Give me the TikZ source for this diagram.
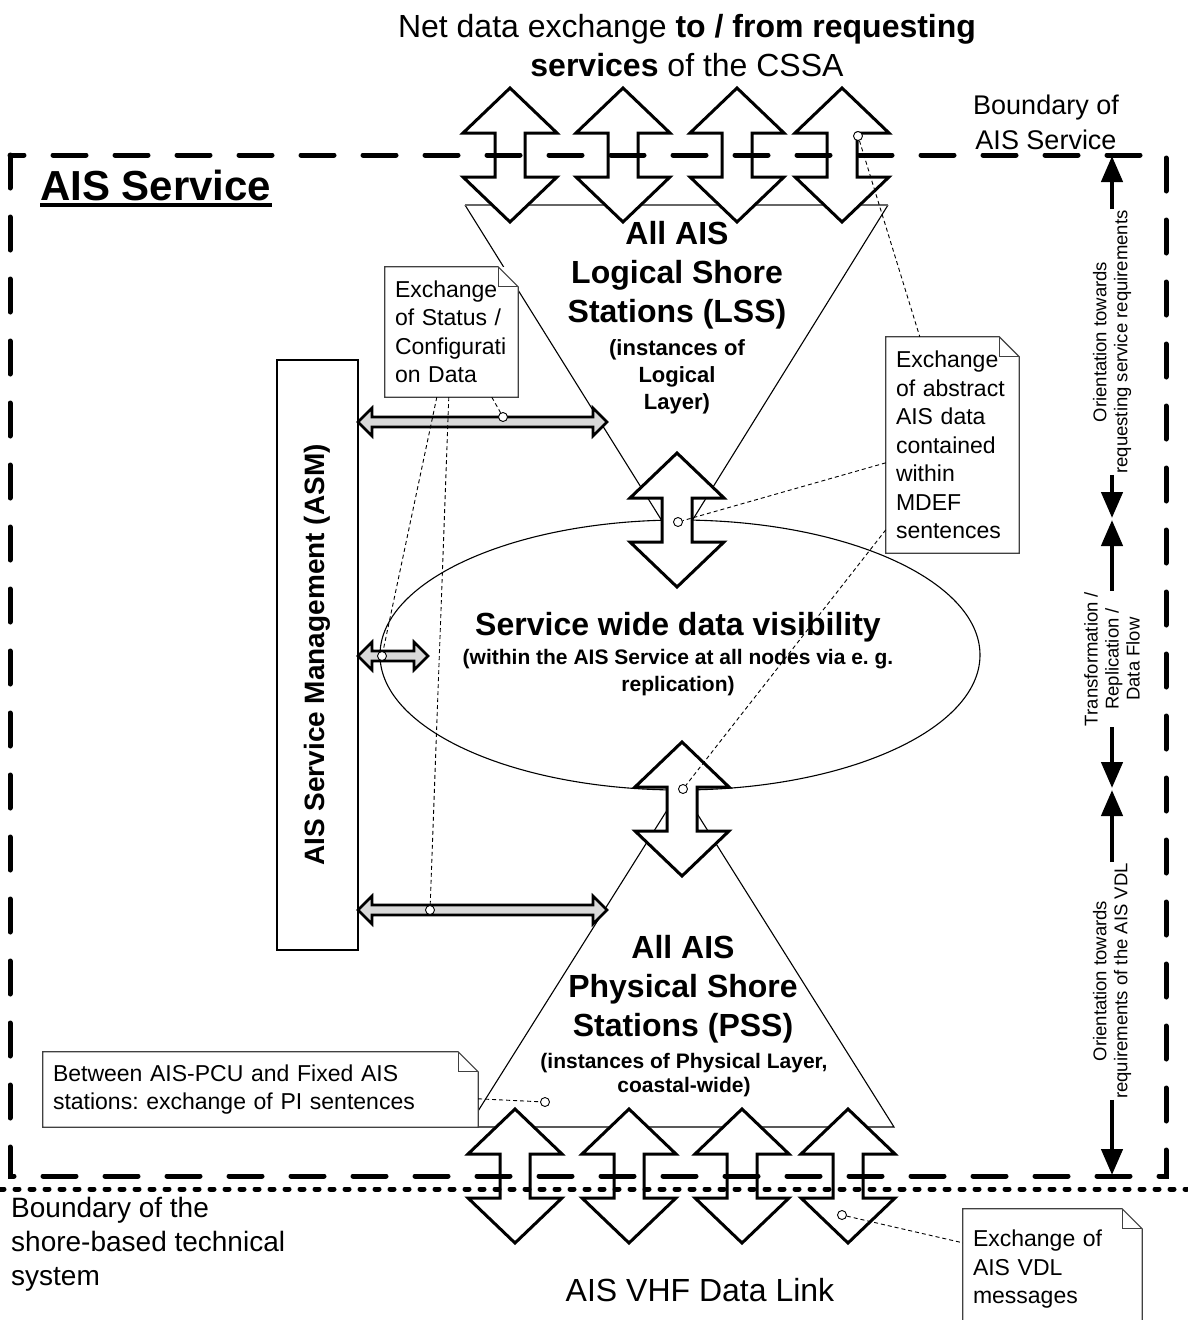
\documentclass[tikz,border=0pt]{standalone}
\usepackage{fontspec}
\setmainfont{Liberation Sans}
\usetikzlibrary{arrows.meta,calc}
\frenchspacing

\newcommand{\fbig}{\fontsize{32}{39}\selectfont}
\newcommand{\fbound}{\fontsize{27}{35}\selectfont}
\newcommand{\fhead}{\fontsize{42}{48}\selectfont\bfseries}
\newcommand{\fsub}{\fontsize{22}{27}\selectfont\bfseries}
\newcommand{\fnote}{\fontsize{23}{28.5}\selectfont}
\newcommand{\fside}{\fontsize{18.5}{21}\selectfont}
\newcommand{\fshore}{\fontsize{28}{34}\selectfont}

\tikzset{
	thinline/.style={line width=1.1pt},
	blockline/.style={line width=3pt, fill=white, line join=miter},
	updown/.pic={
		\draw[blockline] (0,-67) -- (47,-22) -- (15,-22) -- (15,22) -- (47,22) -- (0,67)
			-- (-47,22) -- (-15,22) -- (-15,-22) -- (-47,-22) -- cycle;
	},
	linkarrow/.style={line width=2.6pt, fill=black!15, line join=miter},
	servicebound/.style={line width=5pt, dash pattern=on 33pt off 29pt, line cap=round},
	shorebound/.style={line width=5pt, dash pattern=on 4pt off 11pt, line cap=round},
	note/.style={fill=white, inner xsep=10pt, inner ysep=0pt, align=left, font=\fnote},
	noteline/.style={line width=1.2pt, draw=black!75},
	leader/.style={line width=0.9pt, dash pattern=on 4pt off 3pt},
	ring/.style={circle, draw, fill=white, inner sep=0pt, minimum size=9pt, line width=0.9pt},
	sidetext/.style={rotate=90, align=center, font=\fside, inner sep=1pt},
	sidearrow/.style={line width=4.5pt, -{Triangle[length=26pt,width=21pt]}}
}

\def\hollowlink(#1:#2:#3){\draw[linkarrow] (#1,#3) -- (#1+14,#3-14) -- (#1+14,#3-5) -- (#2-14,#3-5)
	-- (#2-14,#3-14) -- (#2,#3) -- (#2-14,#3+14) -- (#2-14,#3+5) -- (#1+14,#3+5) -- (#1+14,#3+14) -- cycle;}
\def\dogear#1{\draw[noteline] (#1.north west) -- ([xshift=-20pt]#1.north east) -- ([yshift=-20pt]#1.north east)
	-- (#1.south east) -- (#1.south west) -- cycle;
	\draw[noteline] ([xshift=-20pt]#1.north east) |- ([yshift=-20pt]#1.north east);}

\begin{document}
\begin{tikzpicture}[x=1pt,y=-1pt]
	%%%%% START %%%%%
	\useasboundingbox (0,0) rectangle (1187,1320);
	
	% data visibility and the two layers
	\draw[thinline] (680,655) ellipse (300 and 135);
	\draw[thinline] (888,205) -- (677,545) -- (465,205);
	\draw[thinline, black!60] (465,205) -- (888,205);
	\draw[thinline] (681,788) -- (894,1127) -- (468,1127) -- cycle;
	
	% block arrows
	\foreach \x in {510,623,737,842} \pic at (\x,155) {updown};
	\foreach \x in {515,629,742,848} \pic at (\x,1176) {updown};
	\pic at (677,520) {updown};
	\pic at (682,809) {updown};
	
	% boundaries
	\draw[servicebound] (10,155) rectangle (1166,1176);
	\draw[shorebound] (0,1189) -- (1187,1189);
	
	% service management
	\node[draw, line width=1.5pt, fill=white, rotate=90, minimum width=590pt, minimum height=81pt,
		font=\fontsize{28}{34}\selectfont\bfseries] (asm) at (317.5,655) {AIS Service Management (ASM)};
	\hollowlink(358:607:422)
	\hollowlink(358:428:656)
	\hollowlink(358:607:910)
	
	% texts
	\node[font=\fbig, align=center] (cssa) at (687,46) {Net data exchange \textbf{to / from requesting}\\\textbf{services} of the CSSA};
	\node[font=\fbound, align=center] (aisbound) at (1046,122) {Boundary of\\AIS Service};
	\node[font=\fhead, inner sep=0pt, anchor=base west] (service) at (40,200) {AIS Service};
	\draw[line width=3.5pt] ([yshift=-5pt]service.base west) -- ([yshift=-5pt]service.base east);
	
	\node[font=\fbig\bfseries, align=center] (lss) at (677,275) {All AIS\\Logical Shore\\Stations (LSS)};
	\node[font=\fsub, align=center] (lsssub) at (677,377) {(instances of\\Logical\\Layer)};
	\node[font=\fbig\bfseries] (vis) at (678,627) {Service wide data visibility};
	\node[font=\fontsize{21}{27}\selectfont\bfseries, align=center] (vissub) at (678,673) {(within the AIS Service at all nodes via e. g.\\replication)};
	\node[font=\fbig\bfseries, align=center] (pss) at (683,989) {All AIS\\Physical Shore\\Stations (PSS)};
	\node[font=\fontsize{21}{24}\selectfont\bfseries, align=center] (psssub) at (684,1075) {(instances of Physical Layer,\\coastal-wide)};
	\node[font=\fbig] (vhf) at (700,1290) {AIS VHF Data Link};
	\node[font=\fshore, align=left, anchor=west, inner sep=0pt] (shore) at (11,1244) {Boundary of the\\shore-based technical\\system};
	
	% orientation arrows on the right
	\node[sidetext] (ori1) at (1112,342) {Orientation towards\\requesting service requirements};
	\node[sidetext] (flow) at (1112,659) {Transformation /\\Replication /\\Data Flow};
	\node[sidetext] (ori2) at (1112,981) {Orientation towards\\requirements of the AIS VDL};
	\coordinate (r0) at (1112,156);
	\coordinate (r1) at (1112,518);
	\coordinate (r2) at (1112,520);
	\coordinate (r3) at (1112,788);
	\coordinate (r4) at (1112,790);
	\coordinate (r5) at (1112,1175);
	\draw[sidearrow] (ori1.east) -- (r0);
	\draw[sidearrow] (ori1.west) -- (r1);
	\draw[sidearrow] (flow.east) -- (r2);
	\draw[sidearrow] (flow.west) -- (r3);
	\draw[sidearrow] (ori2.east) -- (r4);
	\draw[sidearrow] (ori2.west) -- (r5);
	
	% notes
	\node[note, minimum width=133pt, minimum height=130pt, text width=113pt] (statusnote) at (451.5,332)
		{Exchange\\of Status /\\Configurati\\on Data};
	\dogear{statusnote}
	\node[note, minimum width=133pt, minimum height=216pt, text width=113pt] (mdefnote) at (952.5,445)
		{Exchange\\of abstract\\AIS data\\contained\\within\\MDEF\\sentences};
	\dogear{mdefnote}
	\node[note, minimum width=435pt, minimum height=75pt, text width=415pt] (pinote) at (260.5,1089.5)
		{Between AIS-PCU and Fixed AIS\\stations: exchange of PI sentences};
	\dogear{pinote}
	\node[note, minimum width=179pt, minimum height=121pt, text width=159pt] (vdlnote) at (1052.5,1269.5)
		{Exchange of\\AIS VDL\\messages};
	\dogear{vdlnote}
	
	% leaders
	\node[ring] (c1) at (503,417) {};
	\node[ring] (c2) at (382,656) {};
	\node[ring] (c3) at (430,910) {};
	\node[ring] (c4) at (858,136) {};
	\node[ring] (c5) at (678,522) {};
	\node[ring] (c6) at (683,789) {};
	\node[ring] (c7) at (545,1102) {};
	\node[ring] (c8) at (842,1215) {};
	\draw[leader] ([xshift=107pt]statusnote.south west) -- (c1);
	\draw[leader] ([xshift=52pt]statusnote.south west) -- (c2);
	\draw[leader] ([xshift=64pt]statusnote.south west) -- (c3);
	\draw[leader] (c4) -- ([xshift=34pt]mdefnote.north west);
	\draw[leader] ([yshift=-126pt]mdefnote.north west) -- (c5);
	\draw[leader] ([yshift=-193pt]mdefnote.north west) -- (c6);
	\draw[leader] ([yshift=-47pt]pinote.north east) -- (c7);
	\draw[leader] (c8) -- ([yshift=-34pt]vdlnote.north west);
	
	%%%%% END %%%%%
\end{tikzpicture}
\end{document}
